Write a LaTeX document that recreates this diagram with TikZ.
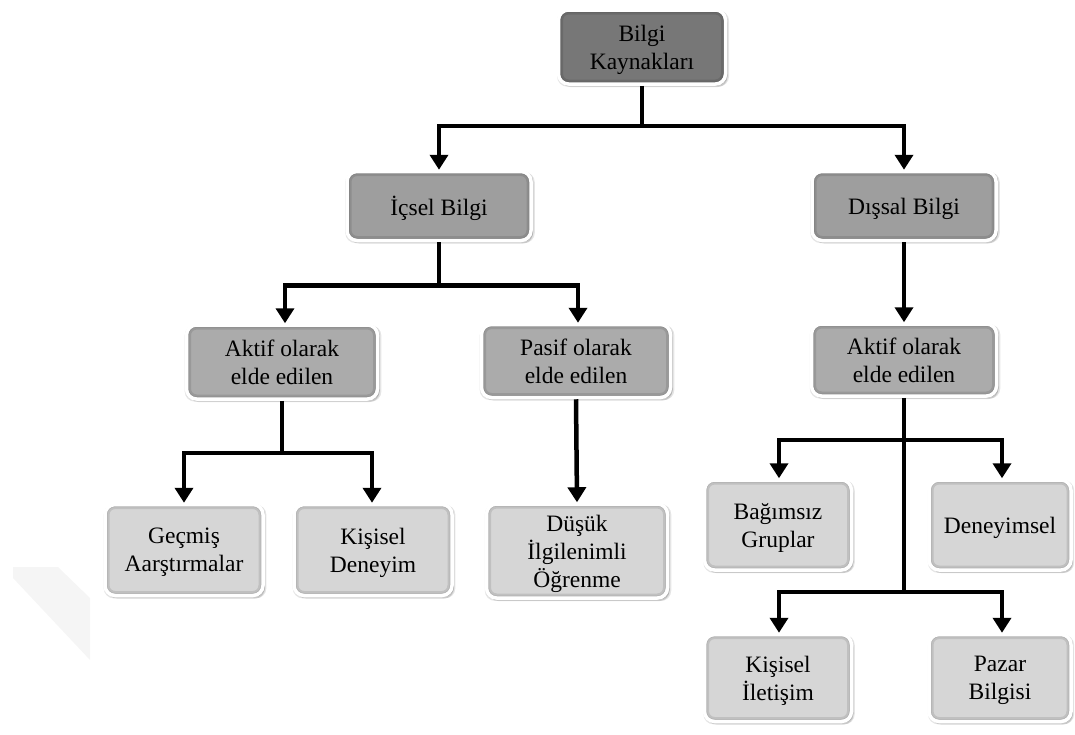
\documentclass[tikz,border=0pt]{standalone}
\usepackage{fontspec}
\setmainfont{Liberation Serif}
\usetikzlibrary{arrows.meta,shadows,calc}

\definecolor{boxtop}{HTML}{777777}
\definecolor{boxmid}{HTML}{9E9E9E}
\definecolor{boxlow}{HTML}{ABABAB}
\definecolor{boxleaf}{HTML}{D6D6D6}

\tikzset{
  box/.style={
    rounded corners=10pt, draw=white, line width=3.5pt,
    align=center, inner sep=2pt, text depth=-3pt,
    font=\fontsize{23.5}{28}\selectfont,
    general shadow={shadow xshift=1pt, shadow yshift=-1.5pt, fill=black, opacity=0.10, shadow scale=1.03},
    general shadow={shadow xshift=2pt, shadow yshift=-3pt, fill=black, opacity=0.12},
    general shadow={shadow xshift=0.5pt, shadow yshift=-0.5pt, fill=black, opacity=0.14, shadow scale=1.02},
    % slightly darker inner rim, giving the bevelled look
    path picture={
      \draw[black, opacity=0.10, line width=9pt, rounded corners=10pt]
        (path picture bounding box.south west) rectangle (path picture bounding box.north east);
      \draw[black, opacity=0.08, line width=5pt, rounded corners=10pt]
        (path picture bounding box.south west) rectangle (path picture bounding box.north east);
    },
  },
  topbox/.style={box, fill=boxtop},
  midbox/.style={box, fill=boxmid},
  lowbox/.style={box, fill=boxlow},
  leafbox/.style={box, fill=boxleaf},
  link/.style={line width=4.5pt, line join=miter, draw=black},
  arr/.style={link, -{Triangle[width=18pt,length=15pt]}},
}

\begin{document}
\begin{tikzpicture}[x=1pt, y=-1pt]
  \useasboundingbox (0,0) rectangle (1075,734);

  % faint background mark at the lower left
  \fill[black!4] (13,567) -- (58,567) -- (90,598) -- (90,660) -- (13,578) -- cycle;

  % level 0
  \node[topbox, minimum width=167pt, minimum height=74pt] (kay) at (642,47) {Bilgi\\Kaynakları};

  % level 1
  \node[midbox, minimum width=184pt, minimum height=69pt] (ic) at (439,206) {İçsel Bilgi};
  \node[midbox, minimum width=184pt, minimum height=69pt] (dis) at (904,206) {Dışsal Bilgi};

  % level 2
  \node[lowbox, minimum width=191pt, minimum height=74pt] (akt1) at (282,362) {Aktif olarak\\elde edilen};
  \node[lowbox, minimum width=189pt, minimum height=73pt] (pas) at (576,361) {Pasif olarak\\elde edilen};
  \node[lowbox, minimum width=185pt, minimum height=72pt] (akt2) at (904,360) {Aktif olarak\\elde edilen};

  % leaves
  \node[leafbox, minimum width=158pt, minimum height=91pt] (gec) at (184,550) {Geçmiş\\Aarştırmalar};
  \node[leafbox, minimum width=158pt, minimum height=91pt] (kis1) at (373,550) {Kişisel\\Deneyim};
  \node[leafbox, minimum width=181pt, minimum height=94pt] (dus) at (577,551) {Düşük\\İlgilenimli\\Öğrenme};
  \node[leafbox, minimum width=147pt, minimum height=90pt] (bag) at (778,525) {Bağımsız\\Gruplar};
  \node[leafbox, minimum width=142pt, minimum height=90pt] (den) at (1000,525) {Deneyimsel};
  \node[leafbox, minimum width=147pt, minimum height=87pt] (kis2) at (778,678) {Kişisel\\İletişim};
  \node[leafbox, minimum width=142pt, minimum height=87pt] (paz) at (1000,678) {Pazar\\Bilgisi};

  % connectors
  \draw[link] (kay.south) -- ++(0,40) coordinate (j0);
  \draw[arr] (j0) -| (ic.north);
  \draw[arr] (j0) -| (dis.north);

  \draw[link] (ic.south) -- ++(0,43) coordinate (j1);
  \draw[arr] (j1) -| ([xshift=3pt]akt1.north);
  \draw[arr] (j1) -| ([xshift=2pt]pas.north);

  \draw[link] (akt1.south) -- ++(0,52) coordinate (j2);
  \draw[arr] (j2) -| (gec.north);
  \draw[arr] (j2) -| ([xshift=-1pt]kis1.north);

  \draw[arr] (pas.south) -- (dus.north);
  \draw[arr] (dis.south) -- (akt2.north);

  \draw[link] (akt2.south) -- ++(0,194) coordinate (j4);
  \coordinate (j3) at ($(akt2.south)+(0,42)$);
  \draw[arr] (j3) -| ([xshift=1pt]bag.north);
  \draw[arr] (j3) -| ([xshift=2pt]den.north);
  \draw[arr] (j4) -| ([xshift=1pt]kis2.north);
  \draw[arr] (j4) -| ([xshift=2pt]paz.north);
\end{tikzpicture}
\end{document}
